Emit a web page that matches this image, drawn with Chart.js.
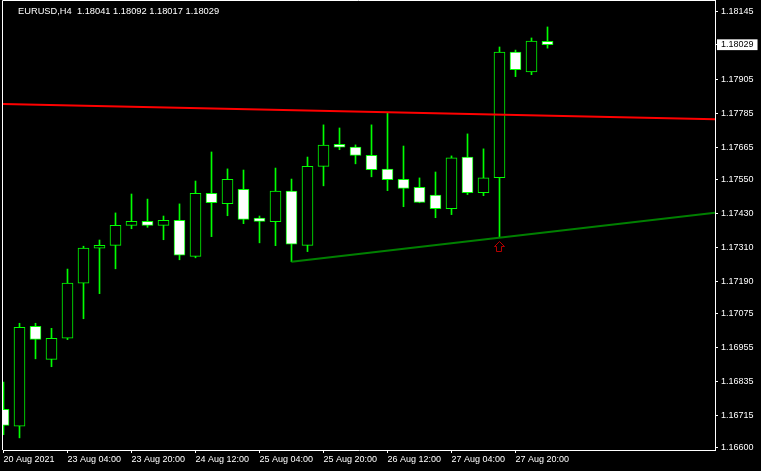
<!DOCTYPE html>
<html>
<head>
<meta charset="utf-8">
<title>EURUSD H4</title>
<script src="https://cdn.jsdelivr.net/npm/chart.js@4.4.0/dist/chart.umd.min.js"></script>
<style>
  html, body { margin: 0; padding: 0; background: #000; }
  #wrap { position: relative; width: 761px; height: 471px; }
  #caption {
    position: absolute; left: 18px; top: 5px;
    font: 9.3px/12px 'Liberation Sans', sans-serif;
    color: #fff; white-space: pre; pointer-events: none;
  }
</style>
</head>
<body>
<div id="wrap">
  <canvas id="chart"></canvas>
  <div id="caption">EURUSD,H4  1.18041 1.18092 1.18017 1.18029</div>
</div>
<script>
/* ─── Data: H4 candles, 20 Aug 12:00 → 28 Aug 00:00 ─────────────────────────── */

const opens  = [1.16737, 1.16677, 1.17031, 1.16914, 1.16989, 1.17184, 1.17308, 1.17318, 1.17389, 1.17403,
                1.17389, 1.17407, 1.17279, 1.17502, 1.17466, 1.17517, 1.17415, 1.17402, 1.17510, 1.17318,
                1.17598, 1.17676, 1.17666, 1.17637, 1.17588, 1.17552, 1.17524, 1.17496, 1.17448, 1.17631,
                1.17505, 1.17558, 1.18003, 1.17933, 1.18041];
const highs  = [1.16834, 1.17042, 1.17042, 1.17024, 1.17234, 1.17315, 1.17337, 1.17433, 1.17500, 1.17482,
                1.17422, 1.17465, 1.17546, 1.17649, 1.17589, 1.17585, 1.17422, 1.17592, 1.17553, 1.17631,
                1.17745, 1.17734, 1.17674, 1.17745, 1.17788, 1.17670, 1.17557, 1.17578, 1.17635, 1.17713,
                1.17660, 1.18021, 1.18010, 1.18053, 1.18092];
const lows   = [1.16647, 1.16636, 1.16916, 1.16888, 1.16984, 1.17058, 1.17147, 1.17235, 1.17377, 1.17382,
                1.17338, 1.17267, 1.17274, 1.17349, 1.17423, 1.17395, 1.17327, 1.17317, 1.17260, 1.17296,
                1.17529, 1.17657, 1.17607, 1.17561, 1.17512, 1.17455, 1.17469, 1.17416, 1.17427, 1.17498,
                1.17494, 1.17347, 1.17916, 1.17923, 1.18017];
const closes = [1.16680, 1.17028, 1.16985, 1.16989, 1.17184, 1.17308, 1.17318, 1.17389, 1.17403, 1.17389,
                1.17407, 1.17283, 1.17502, 1.17469, 1.17552, 1.17410, 1.17403, 1.17510, 1.17322, 1.17598,
                1.17673, 1.17666, 1.17637, 1.17586, 1.17551, 1.17520, 1.17470, 1.17448, 1.17628, 1.17505,
                1.17557, 1.18003, 1.17941, 1.18042, 1.18029];

// trend lines (bar index, price) and the signal arrow
const redLineBars     = [-0.2, 44.5];
const redLinePrices   = [1.17819, 1.17765];
const greenLineBars   = [18, 44.5];
const greenLinePrices = [1.17260, 1.17434];
const arrowBars       = [31];
const arrowPrices     = [1.17314];

// axes
const xTickBars   = [0, 4, 8, 12, 16, 20, 24, 28, 32];
const xTickLabels = ['20 Aug 2021', '23 Aug 04:00', '23 Aug 20:00', '24 Aug 12:00', '25 Aug 04:00',
                     '25 Aug 20:00', '26 Aug 12:00', '27 Aug 04:00', '27 Aug 20:00'];
const yTickValues = [1.18145, 1.18029, 1.17905, 1.17785, 1.17665, 1.17550, 1.17430,
                     1.17310, 1.17190, 1.17075, 1.16955, 1.16835, 1.16715, 1.16600];
const yTickLabels = ['1.18145', '1.18029', '1.17905', '1.17785', '1.17665', '1.17550', '1.17430',
                     '1.17310', '1.17190', '1.17075', '1.16955', '1.16835', '1.16715', '1.16600'];
const BID_TICK = 1;   // index of the current-price label

/* ─── Look ───────────────────────────────────────────────────────────────────── */

const FG     = '#ffffff';
const CANDLE = '#00ff00';
const FONT   = { family: "'Liberation Sans', Arial, sans-serif", size: 9 };

const X_MIN = -0.03125, X_MAX = 44.46875;
const Y_MIN = 1.165929, Y_MAX = 1.181875;

/* ─── Helpers ────────────────────────────────────────────────────────────────── */

const bars   = opens.map((_, i) => i);
const isBull = i => closes[i] > opens[i];
const pts    = (xs, ys) => xs.map((x, i) => ({ x, y: ys[i] }));

function arrowIcon() {
  const c = document.createElement('canvas');
  c.width = 11; c.height = 11;
  const g = c.getContext('2d');
  g.strokeStyle = '#b40000';
  g.lineWidth = 1;
  g.beginPath();
  g.moveTo(5.5, 0.5);
  g.lineTo(10.5, 5.5);
  g.lineTo(7.5, 5.5);
  g.lineTo(7.5, 10.5);
  g.lineTo(2.5, 10.5);
  g.lineTo(2.5, 5.5);
  g.lineTo(0.5, 5.5);
  g.closePath();
  g.stroke();
  return c;
}

// black background + left/top frame lines (right/bottom come from the axes)
const framePlugin = {
  id: 'frame',
  beforeDraw(chart) {
    const { ctx, width, height } = chart;
    ctx.save();
    ctx.fillStyle = '#000';
    ctx.fillRect(0, 0, width, height);
    ctx.restore();
  },
  afterDraw(chart) {
    const { ctx, chartArea: a } = chart;
    ctx.save();
    ctx.strokeStyle = FG;
    ctx.lineWidth = 1;
    ctx.beginPath();
    ctx.moveTo(2.5, a.bottom);
    ctx.lineTo(2.5, 0.5);
    ctx.lineTo(a.right, 0.5);
    ctx.stroke();
    ctx.restore();
  },
};

/* ─── Chart ──────────────────────────────────────────────────────────────────── */

new Chart(document.getElementById('chart'), {
  type: 'bar',
  data: {
    datasets: [
      {
        type: 'line', label: 'Resistance', order: 0,
        data: pts(redLineBars, redLinePrices),
        borderColor: '#ff0000', borderWidth: 2, pointRadius: 0,
      },
      {
        type: 'line', label: 'Support', order: 0,
        data: pts(greenLineBars, greenLinePrices),
        borderColor: '#008000', borderWidth: 2, pointRadius: 0,
      },
      {
        type: 'line', label: 'Signal', order: 0,
        data: pts(arrowBars, arrowPrices),
        showLine: false, pointStyle: arrowIcon(), pointRadius: 5,
      },
      {
        label: 'Body', order: 1, grouped: false,
        data: bars.map(i => ({ x: i, y: [opens[i], closes[i]] })),
        backgroundColor: bars.map(i => isBull(i) ? '#000000' : '#ffffff'),
        borderColor: CANDLE, borderWidth: 1, borderSkipped: false,
        barThickness: 11,
      },
      {
        label: 'Wick', order: 2, grouped: false,
        data: bars.map(i => ({ x: i, y: [lows[i], highs[i]] })),
        backgroundColor: CANDLE, borderWidth: 0,
        barThickness: 1,
      },
    ],
  },
  options: {
    responsive: true,
    maintainAspectRatio: false,
    animation: false,
    events: [],
    layout: { autoPadding: false, padding: { left: 3, top: 0, right: 0, bottom: 0 } },
    plugins: { legend: { display: false }, tooltip: { enabled: false } },
    scales: {
      x: {
        type: 'linear', position: 'bottom',
        min: X_MIN, max: X_MAX, offset: false,
        afterBuildTicks: s => { s.ticks = xTickBars.map(v => ({ value: v })); },
        afterFit: s => { s.height = 21; s.paddingLeft = 0; s.paddingRight = 0; },
        ticks: {
          callback: (v, i) => xTickLabels[i],
          align: 'start', maxRotation: 0, autoSkip: false,
          color: FG, padding: 1, font: FONT,
        },
        grid:   { drawOnChartArea: false, tickLength: 3, color: FG, offset: false },
        border: { color: FG, width: 1 },
      },
      y: {
        type: 'linear', position: 'right',
        min: Y_MIN, max: Y_MAX, beginAtZero: false,
        afterBuildTicks: s => { s.ticks = yTickValues.map(v => ({ value: v })); },
        afterFit: s => { s.width = 46; s.paddingTop = 0; s.paddingBottom = 0; },
        ticks: {
          callback: (v, i) => yTickLabels[i],
          color: c => c.index === BID_TICK ? '#000' : FG,
          showLabelBackdrop: c => c.index === BID_TICK,
          backdropColor: '#ffffff',
          backdropPadding: { top: 0, bottom: 0, left: 4, right: 4 },
          padding: 3, font: FONT,
        },
        grid:   { drawOnChartArea: false, tickLength: 3, color: FG },
        border: { color: FG, width: 1 },
      },
    },
  },
  plugins: [framePlugin],
});
</script>
</body>
</html>
